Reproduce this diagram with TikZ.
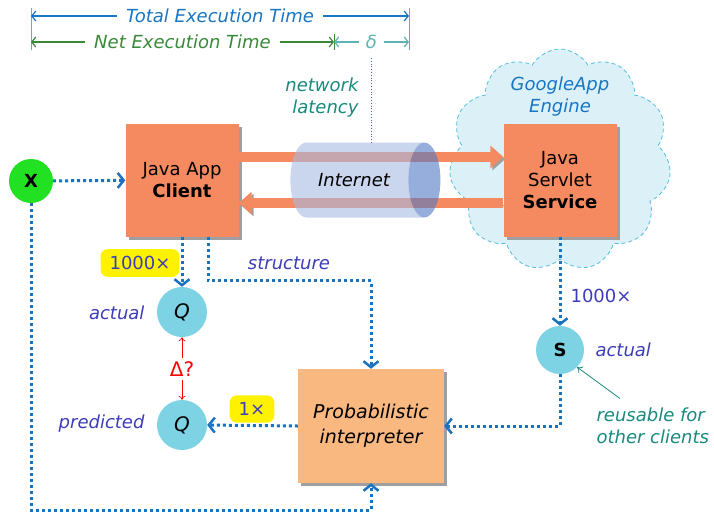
\documentclass[tikz,border=0pt]{standalone}
\usepackage{fontspec}
\setmainfont{DejaVu Sans}
\usetikzlibrary{arrows.meta,shapes.geometric,shapes.symbols,shadows}
\definecolor{flowblue}{RGB}{26,115,190}
\definecolor{totalblue}{RGB}{22,118,196}
\definecolor{netgreen}{RGB}{58,136,58}
\definecolor{deltateal}{RGB}{95,178,178}
\definecolor{noteteal}{RGB}{24,138,126}
\definecolor{indigo}{RGB}{60,60,184}
\definecolor{salmon}{RGB}{245,138,96}
\definecolor{peach}{RGB}{249,184,128}
\definecolor{qcyan}{RGB}{125,211,228}
\definecolor{xgreen}{RGB}{34,224,34}
\definecolor{cloudfill}{RGB}{220,240,248}
\definecolor{cloudline}{RGB}{80,190,222}
\definecolor{pipebody}{RGB}{166,186,226}
\definecolor{pipeend}{RGB}{80,120,195}
\definecolor{hiyellow}{RGB}{255,242,0}
\tikzset{
	flow/.style={draw=flowblue, line width=3pt, dash pattern=on 3pt off 3pt,
		-{Straight Barb[length=6pt,width=15pt,line width=2.5pt]}},
	javabox/.style={draw=none, fill=salmon, minimum width=113pt, minimum height=113pt,
		align=center, drop shadow={shadow xshift=3pt, shadow yshift=-3pt, fill=gray!75, opacity=1}},
	qnode/.style={circle, fill=qcyan, minimum size=50pt, inner sep=0pt},
	tag/.style={fill=hiyellow, rounded corners=7pt, text=indigo, inner xsep=9pt, inner ysep=7pt},
	remark/.style={text=indigo, font=\fontsize{18}{22}\selectfont\itshape},
	fatarrow/.style={draw=salmon, line width=10pt, -{Triangle[length=13pt,width=22pt]},
		preaction={draw=gray!75, transform canvas={shift={(2pt,-2pt)}}}}
}
\begin{document}
\begin{tikzpicture}[x=1pt, y=-1pt, font=\fontsize{18}{22}\selectfont]
	\useasboundingbox (0,0) rectangle (714,512);

	\coordinate (tl) at (31,16);
	\coordinate (tr) at (409,16);
	\coordinate (nl) at (31,42);
	\coordinate (nm) at (334,42);
	\coordinate (nr) at (409,42);
	\draw [deltateal, line width=1pt] (31,8) -- (31,50);
	\draw [deltateal, line width=1pt] (409,8) -- (409,50);
	\draw [netgreen, line width=1pt] (334,34) -- (334,50);
	\draw [totalblue, line width=1.2pt, {Straight Barb[length=4pt,width=10pt]}-{Straight Barb[length=4pt,width=10pt]}] 
	(tl) -- (tr) 
	node [midway, fill=white, inner xsep=9pt, inner ysep=1pt, font=\fontsize{18}{22}\selectfont\itshape] {Total Execution Time};
	\draw [netgreen, line width=1.2pt, {Straight Barb[length=4pt,width=10pt]}-{Straight Barb[length=4pt,width=10pt]}] 
	(nl) -- (nm) 
	node [midway, fill=white, inner xsep=9pt, inner ysep=1pt, font=\fontsize{18}{22}\selectfont\itshape] {Net Execution Time};
	\draw [deltateal, line width=1.2pt, {Straight Barb[length=4pt,width=10pt]}-{Straight Barb[length=4pt,width=10pt]}] 
	(nm) -- (nr) 
	node [midway, fill=white, inner xsep=7pt, inner ysep=1pt, font=\fontsize{18}{22}\selectfont\itshape] {δ};

	\node [cloud, cloud puffs=11, cloud puff arc=120, aspect=1, draw=cloudline, line width=0.8pt,
		dash pattern=on 4pt off 3pt, fill=cloudfill,
		minimum width=222pt, minimum height=222pt] (gae) at (560,160) {};
	\node [text=totalblue, align=center, font=\fontsize{18}{22}\selectfont\itshape] (gaetext) at (560,97) 
	{GoogleApp\\Engine};

	\node [javabox] (cl) at (182,180) {Java App\\\textbf{Client}};
	\node [javabox] (sv) at (560,180) {Java\\Servlet\\\textbf{Service}};

	\draw [fatarrow] ([yshift=23pt]cl.east) -- ([yshift=23pt]sv.west);
	\draw [fatarrow] ([yshift=-23pt]sv.west) -- ([yshift=-23pt]cl.east);

	\node [cylinder, shape border rotate=0, aspect=1.6, minimum width=75pt, minimum height=150pt,
		cylinder uses custom fill, cylinder body fill=pipebody, cylinder end fill=pipeend,
		opacity=0.6, text opacity=1, font=\fontsize{18}{22}\selectfont\itshape] (net) at (354,180) {Internet};

	\coordinate (lat) at (371,58);
	\draw [noteteal, line width=0.8pt, dotted] (lat) -- (net.north -| lat);
	\node [anchor=east, align=right, text=noteteal, font=\fontsize{18}{22}\selectfont\itshape] (latency) at (362,98) 
	{network\\latency};

	\node [circle, fill=xgreen, minimum size=44pt, inner sep=0pt, font=\fontsize{18}{22}\selectfont\bfseries] (x) at (31,181) {X};

	\node [qnode, font=\fontsize{20}{22}\selectfont\itshape] (qa) at (182,312) {Q};
	\node [qnode, font=\fontsize{20}{22}\selectfont\itshape] (qp) at (182,425) {Q};
	\node [qnode, minimum size=48pt] (s) at (560,350) {\textbf{S}};

	\node [draw=none, fill=peach, minimum width=146pt, minimum height=114pt, align=center,
		drop shadow={shadow xshift=3pt, shadow yshift=-3pt, fill=gray!75, opacity=1},
		font=\fontsize{19}{25}\selectfont\itshape] (ip) at (371,426) {Probabilistic\\interpreter};

	\coordinate (low) at (0,510);
	\draw [flow] (x) -- (cl);
	\draw [flow] (x) -- (x |- low) -| (ip.south);
	\draw [flow] (cl.south) -- (qa.north);
	\draw [flow] ([xshift=26pt]cl.south) -- ++(0,44) -| (ip.north);
	\draw [flow] (ip.west) -- (qp.east);
	\draw [flow] (sv.south) -- (s.north);
	\draw [flow] (s.south) |- (ip.east);

	\node [tag] (n1000) at (140,263) {1000×};
	\node [tag] (n1) at (252,409) {1×};
	\node [text=indigo] (s1000) at (601,296) {1000×};
	\node [remark] (struct) at (289,263) {structure};
	\node [remark, anchor=east] (qaact) at (148,313) {actual};
	\node [remark, anchor=east] (qppred) at (148,424) {predicted};
	\node [remark, anchor=west] (sact) at (592,350) {actual};

	\node [text=red, font=\fontsize{20}{22}\selectfont] (delta) at (182,369) {Δ?};
	\draw [red, line width=0.7pt, -{To[length=4pt,width=7pt]}] (delta) -- (qa);
	\draw [red, line width=0.7pt, -{To[length=4pt,width=7pt]}] (delta) -- (qp);

	\node [anchor=west, align=left, text=noteteal, font=\fontsize{18}{22}\selectfont\itshape] (reuse) at (593,426) 
	{reusable for\\other clients};
	\draw [noteteal, line width=0.8pt, -{To[length=5pt,width=8pt]}] ([xshift=27pt, yshift=6pt]reuse.north west) -- (s.south east);
\end{tikzpicture}
\end{document}
